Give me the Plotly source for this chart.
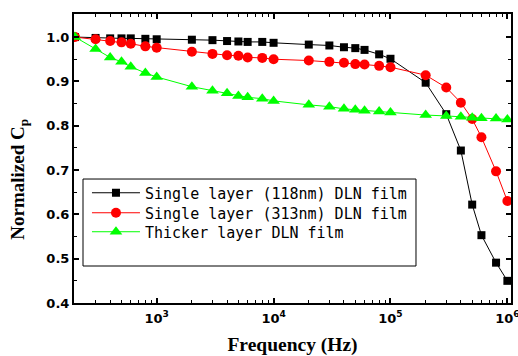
import plotly.graph_objects as go

freq = [200, 300, 400, 500, 600, 800, 1e3, 2e3, 3e3, 4e3, 5e3, 6e3, 8e3, 1e4,
        2e4, 3e4, 4e4, 5e4, 6e4, 8e4, 1e5, 2e5, 3e5, 4e5, 5e5, 6e5, 8e5, 1e6]

cp_118 = [1.0, 0.998, 0.997, 0.997, 0.997, 0.996, 0.995, 0.994, 0.993, 0.991,
          0.990, 0.989, 0.989, 0.987, 0.983, 0.981, 0.977, 0.975, 0.971, 0.961,
          0.951, 0.897, 0.826, 0.744, 0.622, 0.553, 0.491, 0.450]

cp_313 = [1.0, 0.995, 0.991, 0.988, 0.985, 0.979, 0.976, 0.967, 0.962, 0.959,
          0.958, 0.954, 0.953, 0.950, 0.947, 0.944, 0.942, 0.939, 0.938, 0.935,
          0.932, 0.914, 0.886, 0.852, 0.815, 0.774, 0.697, 0.630]

cp_thick = [1.0, 0.973, 0.954, 0.944, 0.933, 0.919, 0.910, 0.888, 0.879, 0.873,
            0.867, 0.864, 0.861, 0.856, 0.847, 0.843, 0.838, 0.836, 0.834, 0.832,
            0.830, 0.824, 0.822, 0.820, 0.818, 0.817, 0.816, 0.814]

names = ["Single layer (118nm) DLN film",
         "Single layer (313nm) DLN film",
         "Thicker layer DLN film"]

x_tickvals = [1e3, 1e4, 1e5, 1e6]
x_ticktext = ["10<sup>3</sup>", "10<sup>4</sup>", "10<sup>5</sup>", "10<sup>6</sup>"]
y_tickvals = [0.4, 0.5, 0.6, 0.7, 0.8, 0.9, 1.0]
y_ticktext = ["0.4", "0.5", "0.6", "0.7", "0.8", "0.9", "1.0"]

x_minor = [m * 10 ** e for e in range(2, 7) for m in range(2, 10)]

fig = go.Figure()
fig.add_trace(go.Scatter(x=freq, y=cp_118, name=names[0], mode="lines+markers",
                         legend="legend",
                         line=dict(color="black", width=1),
                         marker=dict(symbol="square", size=8, color="black")))
fig.add_trace(go.Scatter(x=freq, y=cp_313, name=names[1], mode="lines+markers",
                         legend="legend2",
                         line=dict(color="#ff0000", width=1),
                         marker=dict(symbol="circle", size=10, color="#ff0000")))
fig.add_trace(go.Scatter(x=freq, y=cp_thick, name=names[2], mode="lines+markers",
                         legend="legend3",
                         line=dict(color="#00ff00", width=1),
                         marker=dict(symbol="triangle-up", size=11, color="#00ff00")))

tickfont = dict(family="DejaVu Sans", size=13, color="black", weight="bold")
legfont = dict(family="DejaVu Sans Mono", size=15, color="black")


def leg(yc):
    return dict(x=0.0297, y=yc, xanchor="left", yanchor="middle",
                bgcolor="rgba(0,0,0,0)", borderwidth=0, font=legfont,
                itemwidth=48)


fig.update_layout(
    width=518, height=356,
    margin=dict(l=74, r=7, t=14, b=53, autoexpand=False),
    paper_bgcolor="white", plot_bgcolor="white",
    showlegend=True,
    legend=leg(0.3806),
    legend2=leg(0.3114),
    legend3=leg(0.2457),
    xaxis=dict(type="log", range=[2.2926, 6.031], automargin=False,
               ticklabeloverflow="allow",
               tickvals=x_tickvals, ticktext=x_ticktext,
               ticks="inside", ticklen=5, tickwidth=1.5, tickcolor="black",
               showline=True, linewidth=2, linecolor="black", mirror="allticks",
               showgrid=False, zeroline=False,
               tickfont=tickfont, ticklabelstandoff=2,
               minor=dict(tickvals=x_minor, ticks="inside", ticklen=3,
                          tickwidth=1, tickcolor="black", showgrid=False),
               title=dict(text="Frequency (Hz)", standoff=14,
                          font=dict(family="Liberation Serif", size=19.5,
                                    color="black", weight="bold"))),
    yaxis=dict(range=[0.4, 1.052], automargin=False,
               ticklabeloverflow="allow",
               tickvals=y_tickvals, ticktext=y_ticktext,
               ticks="inside", ticklen=5, tickwidth=1.5, tickcolor="black",
               showline=True, linewidth=2, linecolor="black", mirror="allticks",
               showgrid=False, zeroline=False,
               tickfont=tickfont,
               minor=dict(dtick=0.05, ticks="inside", ticklen=3,
                          tickwidth=1, tickcolor="black", showgrid=False)),
    annotations=[dict(text="Normalized C<sub>p</sub>", textangle=-90,
                      xref="paper", yref="paper", x=-0.126, y=0.43,
                      xanchor="center", yanchor="middle", showarrow=False,
                      font=dict(family="Liberation Serif", size=19,
                                color="black", weight="bold"))],
    shapes=[dict(type="rect", xref="paper", yref="paper",
                 x0=0.0206, x1=0.7826, y0=0.128, y1=0.429,
                 line=dict(color="black", width=1), fillcolor="rgba(0,0,0,0)")],
)

fig.write_html("out.html", config={"displayModeBar": False},
               post_script="document.body.style.margin='0';")
